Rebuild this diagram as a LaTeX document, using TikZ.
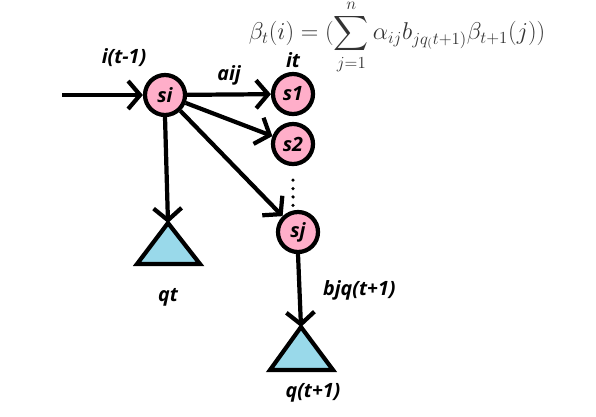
\documentclass[tikz,border=0pt]{standalone}
\usepackage{amsmath}
\usepackage{fontspec}
\usetikzlibrary{arrows.meta,positioning}
\newfontfamily\lblfont{Open Sans}[BoldItalicFont={Open Sans Bold Italic}]
\definecolor{rosepink}{HTML}{FFAEC9}
\definecolor{lightturq}{HTML}{99D9EA}
\definecolor{eqgray}{HTML}{333333}
\tikzset{
  state/.style={draw, circle, minimum size=1cm, inner sep=0pt, fill=rosepink, line width=3pt,
    font=\lblfont\bfseries\itshape\fontsize{14}{16}\selectfont},
  lbl/.style={font=\lblfont\bfseries\itshape\fontsize{14}{16}\selectfont},
  link/.style={line width=3pt, -{Straight Barb[length=0.3cm,width=0.7cm,line width=3pt]}},
  obs/.style={draw, line width=3pt, line join=miter, fill=lightturq}
}
\begin{document}
\begin{tikzpicture}[x=0.025cm, y=-0.025cm]
  \useasboundingbox (0,0) rectangle (596,416);

  % Draw the states
  \node[state] (si) at (165,95) {si};
  \node[state] (s1) at (293,94) {s1};
  \node[state] (s2) at (293,144) {s2};
  \node[state] (sj) at (298,232) {sj};
  \coordinate (start) at (62,95);

  % Draw the observations
  \coordinate (qtTop) at (168,223);
  \coordinate (qnTop) at (301,327);
  \draw[obs] (qtTop) -- (200,264) -- (137,264) -- cycle;
  \draw[obs] (qnTop) -- (333,370) -- (270,370) -- cycle;

  % Draw the transitions
  \draw[link] (start) -- (si);
  \draw[link] (si) -- (s1) node[midway, above=2pt, lbl] {aij};
  \draw[link] (si) -- (s2);
  \draw[link] (si) -- (sj);
  \draw[link] (si.south) -- (qtTop);
  \draw[link] (sj.south) -- (qnTop) node[midway, right=12pt, lbl] {bjq(t+1)};

  % Draw the dots between s2 and sj
  \draw[line width=2.5pt, line cap=round, dash pattern=on 0pt off 6pt] (s2.south) ++(0,14) -- ++(0,28);

  % Draw the labels
  \node[lbl] (itm) at (124,58) {i(t-1)};
  \node[lbl] (it) at (293,60) {it};
  \node[lbl] (qt) at (168,297) {qt};
  \node[lbl] (qn) at (313,393) {q(t+1)};

  % Draw the formula
  \node[text=eqgray, inner sep=0pt, font=\fontsize{17}{20}\selectfont] (eq) at (397,37)
    {$\displaystyle \beta_t(i)=(\sum_{j=1}^{n}\alpha_{ij}b_{jq_(t+1)}\beta_{t+1}(j))$};
\end{tikzpicture}
\end{document}
